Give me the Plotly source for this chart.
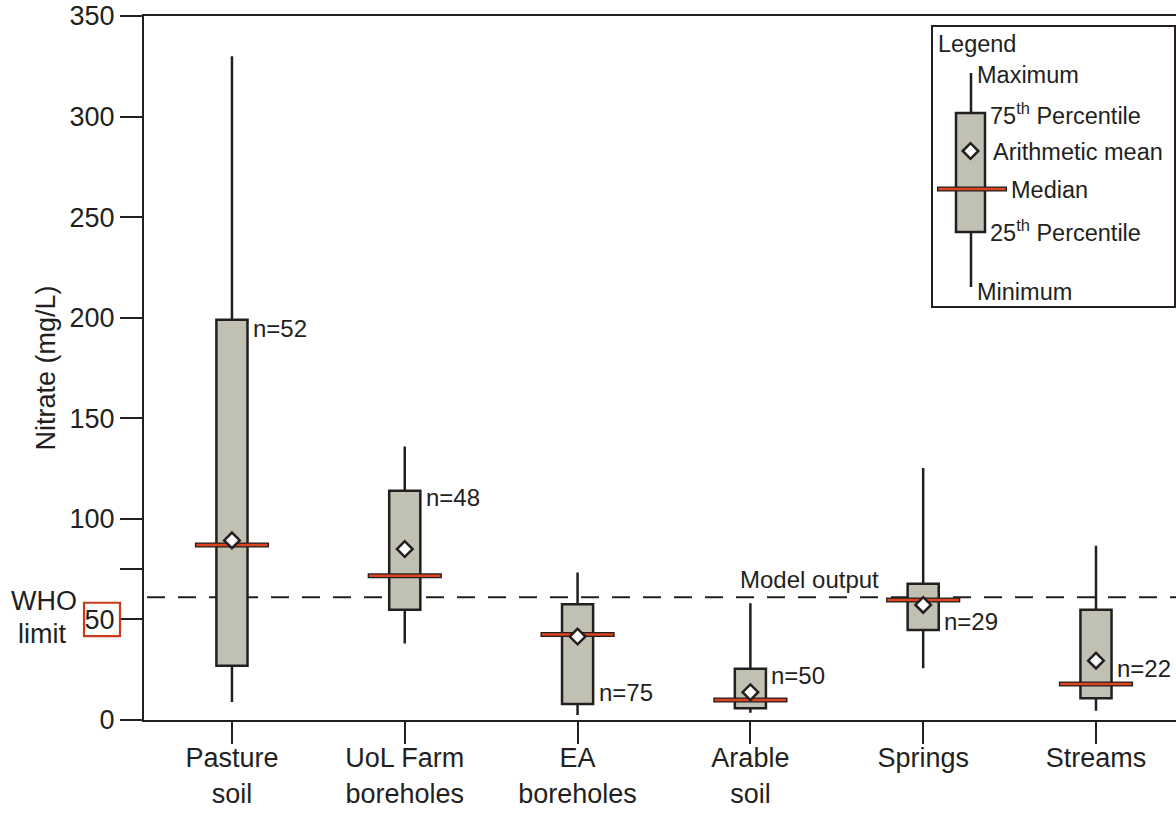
import plotly.graph_objects as go

# ---------------- data ----------------
categories = ["Pasture<br>soil", "UoL Farm<br>boreholes", "EA<br>boreholes",
              "Arable<br>soil", "Springs", "Streams"]
minimum = [9, 38, 2.5, 3.6, 25.7, 4.6]
q1 = [27, 54.8, 8, 5.8, 44.8, 10.8]
median = [87, 71.7, 42.5, 10, 59.7, 17.9]
q3 = [199, 114, 57.6, 25.5, 67.7, 54.8]
maximum = [330, 136, 73.3, 58, 125.3, 86.6]
mean = [89.3, 85, 41.5, 13.8, 57.2, 29.5]
n_samples = [52, 48, 75, 50, 29, 22]
model_output = 61
who_limit = 50
y_tick_vals = [0, 50, 100, 150, 200, 250, 300, 350]
y_minor_tick_vals = [75]

# ---------------- style ----------------
DARK = "#231f20"
FILL = "#c0c1b2"
RED = "#dc4520"
FONT = "Liberation Sans, Arial, sans-serif"

W, H = 1176, 814
ML, MR, MT, MB = 144, 0, 16, 94
PW, PH = W - ML - MR, H - MT - MB


def X(px):
    return (px - ML) / PW


def Y(py):
    return (H - MB - py) / PH


fig = go.Figure()

fig.add_trace(go.Box(
    x=categories, q1=q1, median=median, q3=q3,
    lowerfence=minimum, upperfence=maximum,
    boxpoints=False, width=0.18, whiskerwidth=0,
    fillcolor=FILL, line=dict(color=DARK, width=2.5),
    showlegend=False, hoverinfo="skip",
))

# median bars (dark outline + red core)
fig.add_trace(go.Scatter(
    x=categories, y=median, mode="markers", showlegend=False, hoverinfo="skip",
    marker=dict(symbol="line-ew", size=53, line=dict(color=DARK, width=5)),
))
fig.add_trace(go.Scatter(
    x=categories, y=median, mode="markers", showlegend=False, hoverinfo="skip",
    marker=dict(symbol="line-ew", size=51, line=dict(color=RED, width=2.5)),
))
# means
fig.add_trace(go.Scatter(
    x=categories, y=mean, mode="markers", showlegend=False, hoverinfo="skip",
    marker=dict(symbol="diamond", size=12, color="white",
                line=dict(color=DARK, width=2.5)),
))

shapes = []
annotations = []

# model output dashed line
shapes.append(dict(type="line", xref="paper", yref="y", x0=X(147), x1=1,
                   y0=model_output, y1=model_output,
                   line=dict(color=DARK, width=2, dash="18px,13px"), layer="below"))
annotations.append(dict(text="Model output", xref="paper", yref="y", x=X(738),
                        y=model_output, xanchor="left", yanchor="bottom", yshift=2,
                        showarrow=False, font=dict(size=24, color=DARK, family=FONT)))

# n labels
stats = {"q1": q1, "q3": q3, "mean": mean}
n_anchor = ["q3", "q3", "q1", "q3", "q1", "mean"]
n_shift = [-9, -7, 11, -7, 8, -8]
for i, c in enumerate(categories):
    annotations.append(dict(text=f"n={n_samples[i]}", x=c, y=stats[n_anchor[i]][i],
                            xref="x", yref="y", xanchor="left", yanchor="middle",
                            xshift=19, yshift=n_shift[i], showarrow=False,
                            font=dict(size=24, color=DARK, family=FONT)))

# WHO limit label with red box around the 50 tick label
annotations.append(dict(text="WHO", xref="paper", yref="paper", x=X(44), y=Y(601),
                        xanchor="center", yanchor="middle", showarrow=False,
                        font=dict(size=27, color=DARK, family=FONT)))
annotations.append(dict(text="limit", xref="paper", yref="paper", x=X(42), y=Y(634),
                        xanchor="center", yanchor="middle", showarrow=False,
                        font=dict(size=27, color=DARK, family=FONT)))
shapes.append(dict(type="rect", xref="paper", yref="y", x0=X(84), x1=X(120),
                   y0=who_limit - 8.3, y1=who_limit + 8.3,
                   line=dict(color="#cc3a1e", width=2.2)))

# ---------------- legend box ----------------
shapes.append(dict(type="rect", xref="paper", yref="paper", x0=X(932), x1=X(1175),
                   y0=Y(307), y1=Y(26), line=dict(color=DARK, width=2),
                   fillcolor="white"))
shapes.append(dict(type="line", xref="paper", yref="paper", x0=X(971), x1=X(971),
                   y0=Y(73), y1=Y(287), line=dict(color=DARK, width=2.5)))
shapes.append(dict(type="rect", xref="paper", yref="paper", x0=X(956), x1=X(985),
                   y0=Y(232), y1=Y(113), line=dict(color=DARK, width=2.5),
                   fillcolor=FILL))
shapes.append(dict(type="line", xref="paper", yref="paper", x0=X(937), x1=X(1007),
                   y0=Y(189), y1=Y(189), line=dict(color=DARK, width=5)))
shapes.append(dict(type="line", xref="paper", yref="paper", x0=X(938.5), x1=X(1005.5),
                   y0=Y(189), y1=Y(189), line=dict(color=RED, width=2.5)))
cx, cy, r = 970.5, 151, 7.8
shapes.append(dict(type="path", xref="paper", yref="paper",
                   path=f"M{X(cx - r)},{Y(cy)} L{X(cx)},{Y(cy - r)} L{X(cx + r)},{Y(cy)} "
                        f"L{X(cx)},{Y(cy + r)} Z",
                   fillcolor="white", line=dict(color=DARK, width=2.5)))

legend_labels = [
    ("Legend", 936, 44),
    ("Maximum", 975, 75),
    ("75<sup>th</sup> Percentile", 988, 114),
    ("Arithmetic mean", 991, 152),
    ("Median", 1009, 190),
    ("25<sup>th</sup> Percentile", 988, 231),
    ("Minimum", 975, 292),
]
for txt, lx, ly in legend_labels:
    annotations.append(dict(text=txt, xref="paper", yref="paper", x=X(lx), y=Y(ly),
                            xanchor="left", yanchor="middle", showarrow=False,
                            font=dict(size=23.5, color=DARK, family=FONT)))

fig.update_layout(
    width=W, height=H,
    margin=dict(l=ML, r=MR, t=MT, b=MB, pad=0),
    paper_bgcolor="white", plot_bgcolor="white",
    font=dict(family=FONT, color=DARK),
    shapes=shapes, annotations=annotations,
    showlegend=False,
    xaxis=dict(
        type="category", range=[-0.509, 5.463],
        showline=True, linecolor=DARK, linewidth=2, mirror=True,
        ticks="outside", ticklen=22, tickwidth=2, tickcolor=DARK,
        ticklabelstandoff=-9,
        tickfont=dict(size=27, color=DARK, family=FONT),
        showgrid=False, zeroline=False, fixedrange=True, automargin=False,
    ),
    yaxis=dict(
        range=[0, 350], tickmode="array", tickvals=y_tick_vals,
        showline=True, linecolor=DARK, linewidth=2,
        ticks="outside", ticklen=22, tickwidth=2, tickcolor=DARK,
        tickfont=dict(size=27, color=DARK, family=FONT),
        minor=dict(tickmode="array", tickvals=y_minor_tick_vals, ticks="outside",
                   ticklen=22, tickwidth=2, tickcolor=DARK, showgrid=False),
        title=dict(text="Nitrate (mg/L)", font=dict(size=27, color=DARK, family=FONT),
                   standoff=6),
        showgrid=False, zeroline=False, fixedrange=True, automargin=False,
    ),
)

fig.write_html("out.html", config={"displayModeBar": False},
               post_script="document.body.style.margin='0';document.body.style.padding='0';")
